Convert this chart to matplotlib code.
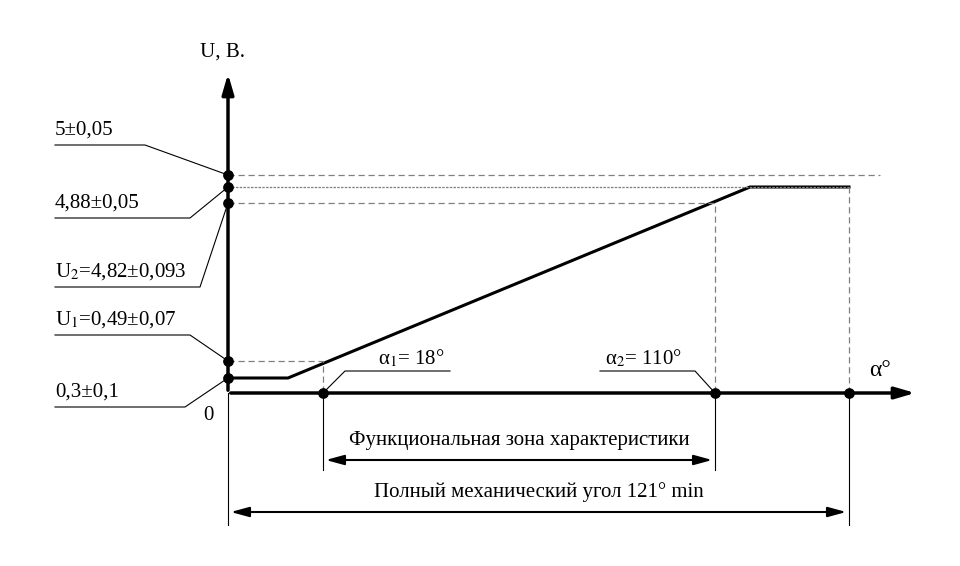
import matplotlib.pyplot as plt

# schematic positions (pixels from the origin: right, up)
ox, oy = 228, 393
u_levels = [218, 206, 190, 32, 15]          # 5, 4.88, 4.82, 0.49, 0.3
u_labels = ["5±0,05", "4,88±0,05", "U$_2$=4,82±0,093", "U$_1$=0,49±0,07", "0,3±0,1"]
u_label_y = [248, 175, 106, 58, -14]        # height of each label's leader line
u_knee_x = [-83, -38, -28, -38, -43]
a_pos = [95, 487, 621]                      # 18°, 110°, 121°
curve_x = [0, 60, 522, 621]
curve_y = [15, 15, 206, 206]

plt.rcParams['font.family'] = ['Liberation Serif', 'DejaVu Serif']
plt.rcParams['mathtext.fontset'] = 'stix'
fig = plt.figure(figsize=(9.6, 5.66), dpi=100)
ax = fig.add_axes([0, 0, 1, 1])
ax.set_xlim(-ox, 960 - ox)
ax.set_ylim(oy - 566, oy)
ax.axis('off')

k = dict(color='black', lw=2.2)
head = '-|>,head_length=1.2,head_width=0.35'
ax.annotate('', xy=(0, 322), xytext=(0, 0), arrowprops=dict(arrowstyle=head, color='black', lw=2.5))
ax.annotate('', xy=(690, 0), xytext=(0, 0), arrowprops=dict(arrowstyle=head, color='black', lw=2.5))
ax.plot(curve_x, curve_y, **k)

g = dict(color='gray', lw=0.9, ls=(0, (5, 3)))
ax.plot([0, 652], [u_levels[0]] * 2, **g)
ax.plot([0, curve_x[-1]], [u_levels[1]] * 2, color='gray', lw=0.9, ls=(0, (2, 1)))
ax.plot([curve_x[-1]] * 2, [0, u_levels[1]], **g)
ax.plot([0, a_pos[1], a_pos[1]], [u_levels[2], u_levels[2], 0], **g)
ax.plot([0, a_pos[0], a_pos[0]], [u_levels[3], u_levels[3], 0], **g)

ax.scatter([0] * 5, u_levels, s=45, color='black', zorder=5)
ax.scatter(a_pos, [0] * 3, s=45, color='black', zorder=5)

fs = 15
for lvl, lab, ly, kx in zip(u_levels, u_labels, u_label_y, u_knee_x):
    ax.plot([-173, kx, 0], [ly, ly, lvl], color='black', lw=0.8)
    ax.text(-173, ly + 5, lab, fontsize=fs, va='bottom', ha='left')

ax.plot([a_pos[0], 117, 222], [0, 22, 22], color='black', lw=0.8)
ax.text(150, 24, "α$_1$= 18°", fontsize=fs, va='bottom')
ax.plot([a_pos[1], 467, 372], [0, 22, 22], color='black', lw=0.8)
ax.text(377, 24, "α$_2$= 110°", fontsize=fs, va='bottom')

ax.text(-5, 341, "U, B.", fontsize=fs, va='center', ha='center')
ax.text(-20, -22, "0", fontsize=fs, va='center', ha='center')
ax.text(652, 23, "α°", fontsize=fs + 2, va='center', ha='center')

t = dict(color='black', lw=0.8)
ax.plot([0, 0], [0, -132], **t)
ax.plot([a_pos[0]] * 2, [0, -77], **t)
ax.plot([a_pos[1]] * 2, [0, -77], **t)
ax.plot([a_pos[2]] * 2, [0, -132], **t)
arr = dict(arrowstyle='<|-|>,head_length=1.1,head_width=0.3', color='black', lw=1.5)
ax.annotate('', xy=(a_pos[0], -67), xytext=(a_pos[1], -67), arrowprops=arr)
ax.text((a_pos[0] + a_pos[1]) / 2, -47, "Функциональная зона характеристики", fontsize=fs, ha='center', va='center')
ax.annotate('', xy=(0, -119), xytext=(a_pos[2], -119), arrowprops=arr)
ax.text(a_pos[2] / 2, -99, "Полный механический угол 121° min", fontsize=fs, ha='center', va='center')

fig.savefig('out.png', dpi=100)
